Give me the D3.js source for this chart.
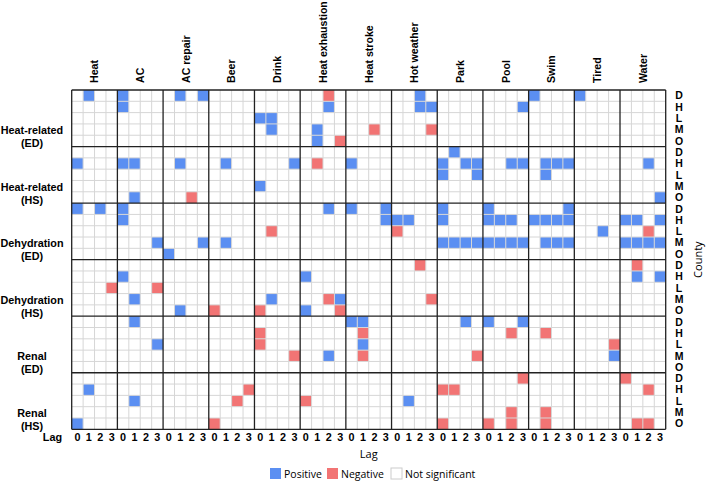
<!DOCTYPE html>
<html>
<head>
<meta charset="utf-8">
<script src="https://cdn.jsdelivr.net/npm/d3@7"></script>
<style>
  body { margin: 0; background: #fff; }
  svg { display: block; }
</style>
</head>
<body>
<svg width="709" height="482"></svg>
<script>
// search terms (column blocks), lags inside each block
var terms = ["Heat", "AC", "AC repair", "Beer", "Drink", "Heat exhaustion", "Heat stroke",
             "Hot weather", "Park", "Pool", "Swim", "Tired", "Water"];
var lags = [0, 1, 2, 3];

// outcome groups (row blocks), counties inside each group
var outcomes = [["Heat-related", "(ED)"], ["Heat-related", "(HS)"], ["Dehydration", "(ED)"],
                ["Dehydration", "(HS)"], ["Renal", "(ED)"], ["Renal", "(HS)"]];
var counties = ["D", "H", "L", "M", "O"];

// significant cells: [county, term, lag, sign]
var heatRelatedED = [
  ["D","Heat",1,"+"],["D","AC",0,"+"],["D","AC repair",1,"+"],["D","AC repair",3,"+"],
  ["D","Heat exhaustion",2,"-"],["D","Hot weather",2,"+"],["D","Swim",0,"+"],["D","Tired",0,"+"],
  ["H","AC",0,"+"],["H","Heat exhaustion",2,"+"],["H","Hot weather",2,"+"],["H","Hot weather",3,"+"],["H","Pool",3,"+"],
  ["L","Drink",0,"+"],["L","Drink",1,"+"],
  ["M","Drink",1,"+"],["M","Heat exhaustion",1,"+"],["M","Heat stroke",2,"-"],["M","Hot weather",3,"-"],
  ["O","Heat exhaustion",1,"+"],["O","Heat exhaustion",3,"-"]
];
var heatRelatedHS = [
  ["D","Park",1,"+"],
  ["H","Heat",0,"+"],["H","AC",0,"+"],["H","AC",1,"+"],["H","AC repair",1,"+"],["H","Beer",1,"+"],
  ["H","Drink",3,"+"],["H","Heat exhaustion",1,"-"],["H","Heat stroke",0,"+"],["H","Park",0,"+"],
  ["H","Park",2,"+"],["H","Park",3,"+"],["H","Pool",2,"+"],["H","Pool",3,"+"],["H","Swim",1,"+"],
  ["H","Swim",2,"+"],["H","Swim",3,"+"],["H","Water",2,"+"],
  ["L","Park",0,"+"],["L","Park",3,"+"],["L","Swim",1,"+"],
  ["M","Drink",0,"+"],
  ["O","AC",1,"+"],["O","AC repair",2,"-"],["O","Water",3,"+"]
];
var dehydrationED = [
  ["D","Heat",0,"+"],["D","Heat",2,"+"],["D","AC",0,"+"],["D","Heat exhaustion",2,"+"],["D","Heat stroke",0,"+"],
  ["D","Heat stroke",3,"+"],["D","Park",0,"+"],["D","Pool",0,"+"],["D","Swim",3,"+"],
  ["H","AC",0,"+"],["H","Heat stroke",3,"+"],["H","Hot weather",0,"+"],["H","Hot weather",1,"+"],["H","Park",0,"+"],
  ["H","Pool",0,"+"],["H","Pool",1,"+"],["H","Pool",2,"+"],["H","Swim",0,"+"],["H","Swim",1,"+"],["H","Swim",2,"+"],
  ["H","Swim",3,"+"],["H","Water",0,"+"],["H","Water",1,"+"],["H","Water",3,"+"],
  ["L","Drink",1,"-"],["L","Hot weather",0,"-"],["L","Tired",2,"+"],["L","Water",2,"-"],
  ["M","AC",3,"+"],["M","AC repair",3,"+"],["M","Beer",1,"+"],["M","Park",0,"+"],["M","Park",1,"+"],["M","Park",2,"+"],
  ["M","Park",3,"+"],["M","Pool",0,"+"],["M","Pool",1,"+"],["M","Pool",2,"+"],["M","Pool",3,"+"],["M","Swim",1,"+"],
  ["M","Swim",2,"+"],["M","Swim",3,"+"],["M","Water",0,"+"],["M","Water",1,"+"],["M","Water",2,"+"],["M","Water",3,"+"],
  ["O","AC repair",0,"+"]
];
var dehydrationHS = [
  ["D","Hot weather",2,"-"],["D","Water",1,"-"],
  ["H","AC",0,"+"],["H","Heat exhaustion",0,"+"],["H","Water",1,"+"],["H","Water",3,"+"],
  ["L","Heat",3,"-"],["L","AC",3,"-"],
  ["M","AC",1,"+"],["M","Drink",1,"+"],["M","Heat exhaustion",2,"-"],["M","Heat exhaustion",3,"+"],["M","Hot weather",3,"-"],
  ["O","AC repair",1,"+"],["O","Beer",0,"-"],["O","Drink",0,"-"],["O","Heat exhaustion",0,"+"],["O","Heat exhaustion",3,"-"]
];
var renalED = [
  ["D","AC",1,"+"],["D","Heat stroke",0,"+"],["D","Heat stroke",1,"+"],["D","Park",2,"+"],["D","Pool",0,"+"],["D","Pool",3,"+"],
  ["H","Drink",0,"-"],["H","Heat stroke",1,"-"],["H","Pool",2,"-"],["H","Swim",1,"-"],
  ["L","AC",3,"+"],["L","Drink",0,"-"],["L","Heat stroke",1,"+"],["L","Tired",3,"-"],
  ["M","Drink",3,"-"],["M","Heat exhaustion",2,"+"],["M","Heat stroke",1,"-"],["M","Park",3,"-"],["M","Tired",3,"+"]
];
var renalHS = [
  ["D","Pool",3,"-"],["D","Water",0,"-"],
  ["H","Heat",1,"+"],["H","Beer",3,"-"],["H","Park",0,"-"],["H","Park",1,"-"],["H","Water",2,"-"],
  ["L","AC",1,"+"],["L","Beer",2,"-"],["L","Heat exhaustion",0,"-"],["L","Hot weather",1,"+"],
  ["M","Pool",2,"-"],["M","Swim",1,"-"],
  ["O","Heat",0,"+"],["O","Beer",0,"-"],["O","Park",0,"-"],["O","Pool",0,"-"],["O","Pool",2,"-"],
  ["O","Swim",1,"-"],["O","Water",1,"-"],["O","Water",2,"-"]
];
var groups = [heatRelatedED, heatRelatedHS, dehydrationED, dehydrationHS, renalED, renalHS];

var legendItems = [["+", "Positive"], ["-", "Negative"], ["0", "Not significant"]];

var svg = d3.select("svg");
var color = {"+": "#5b8ff2", "-": "#f27474", "0": "#ffffff"};
var boldFont = "'Liberation Sans', Arial, sans-serif";
var softFont = "'Open Sans', 'Noto Sans', sans-serif";

// column keys: term|lag, row keys: group|county
var colKeys = [];
terms.forEach(function(t) { lags.forEach(function(l) { colKeys.push(t + "|" + l); }); });
var rowKeys = [];
outcomes.forEach(function(o, i) { counties.forEach(function(c) { rowKeys.push(i + "|" + c); }); });

var x = d3.scaleBand().domain(colKeys).range([71.7, 665.7]);
var y = d3.scaleBand().domain(rowKeys).range([90, 429.3]);
var bw = x.bandwidth(), bh = y.bandwidth();
var x0 = x.range()[0], x1 = x.range()[1], y0 = y.range()[0], y1 = y.range()[1];

// flatten into cells
var cells = [];
groups.forEach(function(g, i) {
  g.forEach(function(d) { cells.push({row: i + "|" + d[0], col: d[1] + "|" + d[2], sign: d[3]}); });
});

svg.append("g").selectAll("rect")
  .data(cells)
  .enter().append("rect")
    .attr("x", function(d) { return x(d.col); })
    .attr("y", function(d) { return y(d.row); })
    .attr("width", bw)
    .attr("height", bh)
    .attr("fill", function(d) { return color[d.sign]; });

// light grid
var grid = svg.append("g").attr("stroke", "#d6d6d6").attr("stroke-width", 1);
d3.range(colKeys.length + 1).forEach(function(i) {
  if (i % 4 == 0) return;
  grid.append("line").attr("x1", x0 + i * bw).attr("x2", x0 + i * bw).attr("y1", y0).attr("y2", y1);
});
d3.range(rowKeys.length + 1).forEach(function(i) {
  if (i % 5 == 0) return;
  grid.append("line").attr("x1", x0).attr("x2", x1).attr("y1", y0 + i * bh).attr("y2", y0 + i * bh);
});

// block lines
var blocks = svg.append("g").attr("stroke", "#222").attr("stroke-width", 1.3);
d3.range(0, colKeys.length + 1, 4).forEach(function(i) {
  blocks.append("line").attr("x1", x0 + i * bw).attr("x2", x0 + i * bw).attr("y1", y0).attr("y2", y1);
});
d3.range(0, rowKeys.length + 1, 5).forEach(function(i) {
  blocks.append("line").attr("x1", x0).attr("x2", x1).attr("y1", y0 + i * bh).attr("y2", y0 + i * bh);
});

// term headers
svg.append("g").selectAll("text")
  .data(terms)
  .enter().append("text")
    .attr("transform", function(t) { return "translate(" + (x(t + "|0") + 2 * bw) + ",83) rotate(-90)"; })
    .attr("dy", "0.36em")
    .attr("font-family", boldFont)
    .attr("font-weight", "bold")
    .attr("font-size", 10.6)
    .text(function(t) { return t; });

// outcome labels
var ol = svg.append("g").selectAll("text")
  .data(outcomes)
  .enter().append("text")
    .attr("x", 32)
    .attr("y", function(o, i) { return y(i + "|H") + 2.5 * bh + 4.5; })
    .attr("text-anchor", "middle")
    .attr("font-family", boldFont)
    .attr("font-weight", "bold")
    .attr("font-size", 10.8);
ol.append("tspan").attr("x", 32).text(function(o) { return o[0]; });
ol.append("tspan").attr("x", 32).attr("dy", 13).text(function(o) { return o[1]; });

// county letters
svg.append("g").selectAll("text")
  .data(rowKeys)
  .enter().append("text")
    .attr("x", 679)
    .attr("y", function(r) { return y(r) + bh / 2; })
    .attr("dy", "0.36em")
    .attr("text-anchor", "middle")
    .attr("font-family", boldFont)
    .attr("font-weight", "bold")
    .attr("font-size", 10.5)
    .text(function(r) { return r.split("|")[1]; });

svg.append("text")
  .attr("transform", "translate(702," + ((y0 + y1) / 2) + ") rotate(-90)")
  .attr("text-anchor", "middle")
  .attr("font-family", softFont)
  .attr("font-size", 11)
  .text("County");

// lag ticks
svg.append("g").selectAll("text")
  .data(colKeys)
  .enter().append("text")
    .attr("x", function(c) { return x(c) + bw / 2; })
    .attr("y", 441)
    .attr("text-anchor", "middle")
    .attr("font-family", boldFont)
    .attr("font-weight", "bold")
    .attr("font-size", 10.8)
    .text(function(c) { return c.split("|")[1]; });

svg.append("text")
  .attr("x", 62).attr("y", 441)
  .attr("text-anchor", "end")
  .attr("font-family", boldFont)
  .attr("font-weight", "bold")
  .attr("font-size", 10.8)
  .text("Lag");

svg.append("text")
  .attr("x", (x0 + x1) / 2).attr("y", 458)
  .attr("text-anchor", "middle")
  .attr("font-family", softFont)
  .attr("font-size", 11)
  .text("Lag");

// legend
var legendX = [270, 327, 391];
var lg = svg.append("g").selectAll("g")
  .data(legendItems)
  .enter().append("g")
    .attr("transform", function(d, i) { return "translate(" + legendX[i] + ",468)"; });
lg.append("rect")
  .attr("width", 11).attr("height", 11)
  .attr("fill", function(d) { return color[d[0]]; })
  .attr("stroke", function(d) { return d[0] == "0" ? "#ccc" : "none"; });
lg.append("text")
  .attr("x", 14).attr("y", 10)
  .attr("font-family", softFont)
  .attr("font-size", 10.5)
  .text(function(d) { return d[1]; });
</script>
</body>
</html>
